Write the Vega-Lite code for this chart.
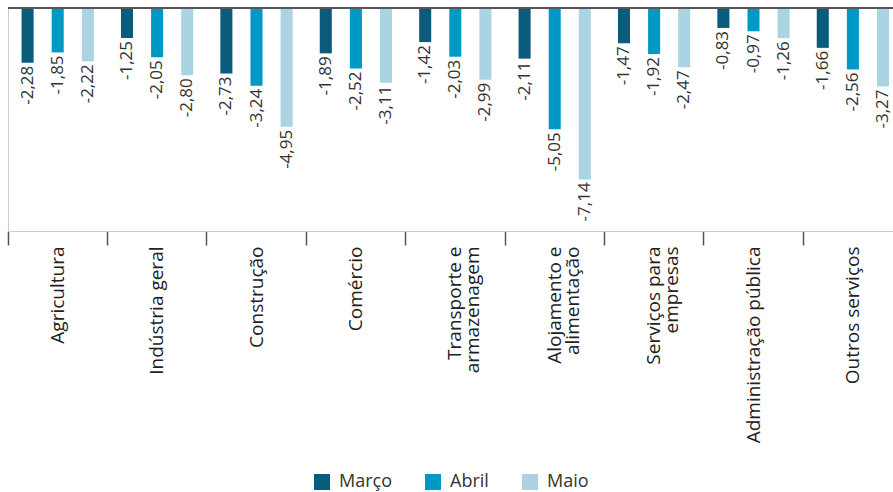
{
  "$schema": "https://vega.github.io/schema/vega-lite/v6.json",
  "width": 885,
  "height": 223,
  "autosize": {"type": "none"},
  "padding": {"left": 8, "top": 8, "right": 0, "bottom": 261},
  "config": {
    "locale": {"number": {"decimal": ",", "thousands": ".", "grouping": [3], "currency": ["", " €"], "minus": "-"}},
    "view": {"stroke": null},
    "font": "Open Sans",
    "legend": {"layout": {"bottom": {"anchor": "middle"}}}
  },
  "data": {
    "values": [
      {"setor": "Agricultura", "mes": "Março", "valor": -2.28},
      {"setor": "Agricultura", "mes": "Abril", "valor": -1.85},
      {"setor": "Agricultura", "mes": "Maio", "valor": -2.22},
      {"setor": "Indústria geral", "mes": "Março", "valor": -1.25},
      {"setor": "Indústria geral", "mes": "Abril", "valor": -2.05},
      {"setor": "Indústria geral", "mes": "Maio", "valor": -2.80},
      {"setor": "Construção", "mes": "Março", "valor": -2.73},
      {"setor": "Construção", "mes": "Abril", "valor": -3.24},
      {"setor": "Construção", "mes": "Maio", "valor": -4.95},
      {"setor": "Comércio", "mes": "Março", "valor": -1.89},
      {"setor": "Comércio", "mes": "Abril", "valor": -2.52},
      {"setor": "Comércio", "mes": "Maio", "valor": -3.11},
      {"setor": "Transporte e|armazenagem", "mes": "Março", "valor": -1.42},
      {"setor": "Transporte e|armazenagem", "mes": "Abril", "valor": -2.03},
      {"setor": "Transporte e|armazenagem", "mes": "Maio", "valor": -2.99},
      {"setor": "Alojamento e|alimentação", "mes": "Março", "valor": -2.11},
      {"setor": "Alojamento e|alimentação", "mes": "Abril", "valor": -5.05},
      {"setor": "Alojamento e|alimentação", "mes": "Maio", "valor": -7.14},
      {"setor": "Serviços para|empresas", "mes": "Março", "valor": -1.47},
      {"setor": "Serviços para|empresas", "mes": "Abril", "valor": -1.92},
      {"setor": "Serviços para|empresas", "mes": "Maio", "valor": -2.47},
      {"setor": "Administração pública", "mes": "Março", "valor": -0.83},
      {"setor": "Administração pública", "mes": "Abril", "valor": -0.97},
      {"setor": "Administração pública", "mes": "Maio", "valor": -1.26},
      {"setor": "Outros serviços", "mes": "Março", "valor": -1.66},
      {"setor": "Outros serviços", "mes": "Abril", "valor": -2.56},
      {"setor": "Outros serviços", "mes": "Maio", "valor": -3.27}
    ]
  },
  "layer": [
    {
      "mark": {"type": "bar"},
      "encoding": {
        "x": {"field": "setor", "type": "nominal", "sort": null,
          "scale": {"paddingInner": 0, "paddingOuter": 0, "range": [0, 894.6]},
          "axis": {"title": null, "labelAngle": 270, "labelFontSize": 19, "labelColor": "#222",
            "domainColor": "#cccccc", "tickColor": "#555555", "tickSize": 14, "tickWidth": 1.5,
            "bandPosition": 0, "labelPadding": 1, "labelLimit": 0,
            "labelExpr": "split(datum.label, '|')", "labelLineHeight": 18}},
        "xOffset": {"field": "mes", "type": "nominal", "sort": ["Março", "Abril", "Maio"],
          "scale": {"paddingInner": 0.6, "paddingOuter": 0.45}},
        "y": {"field": "valor", "type": "quantitative",
          "scale": {"domain": [-9.29, 0], "nice": false},
          "axis": {"title": null, "labels": false, "ticks": false, "grid": false, "domainColor": "#cccccc"}},
        "color": {"field": "mes", "type": "nominal",
          "scale": {"domain": ["Março", "Abril", "Maio"], "range": ["#0a5b7c", "#0099c5", "#aad4e2"]},
          "legend": {"title": null, "orient": "bottom", "direction": "horizontal", "symbolType": "square",
            "symbolSize": 256, "symbolStrokeWidth": 0, "symbolOpacity": 1, "labelFontSize": 18, "labelColor": "#333",
            "labelOffset": 8, "columnPadding": 32, "offset": 30}}
      }
    },
    {
      "mark": {"type": "text", "angle": 270, "align": "right", "baseline": "middle", "dx": -3, "fontSize": 17, "color": "#333"},
      "encoding": {
        "x": {"field": "setor", "type": "nominal", "sort": null},
        "xOffset": {"field": "mes", "type": "nominal", "sort": ["Março", "Abril", "Maio"]},
        "y": {"field": "valor", "type": "quantitative"},
        "text": {"field": "valor", "type": "quantitative", "format": ".2f"}
      }
    },
    {
      "data": {"values": [{"zero": 0}]},
      "mark": {"type": "rule", "color": "#555555", "strokeWidth": 2},
      "encoding": {"y": {"field": "zero", "type": "quantitative"}}
    }
  ]
}
